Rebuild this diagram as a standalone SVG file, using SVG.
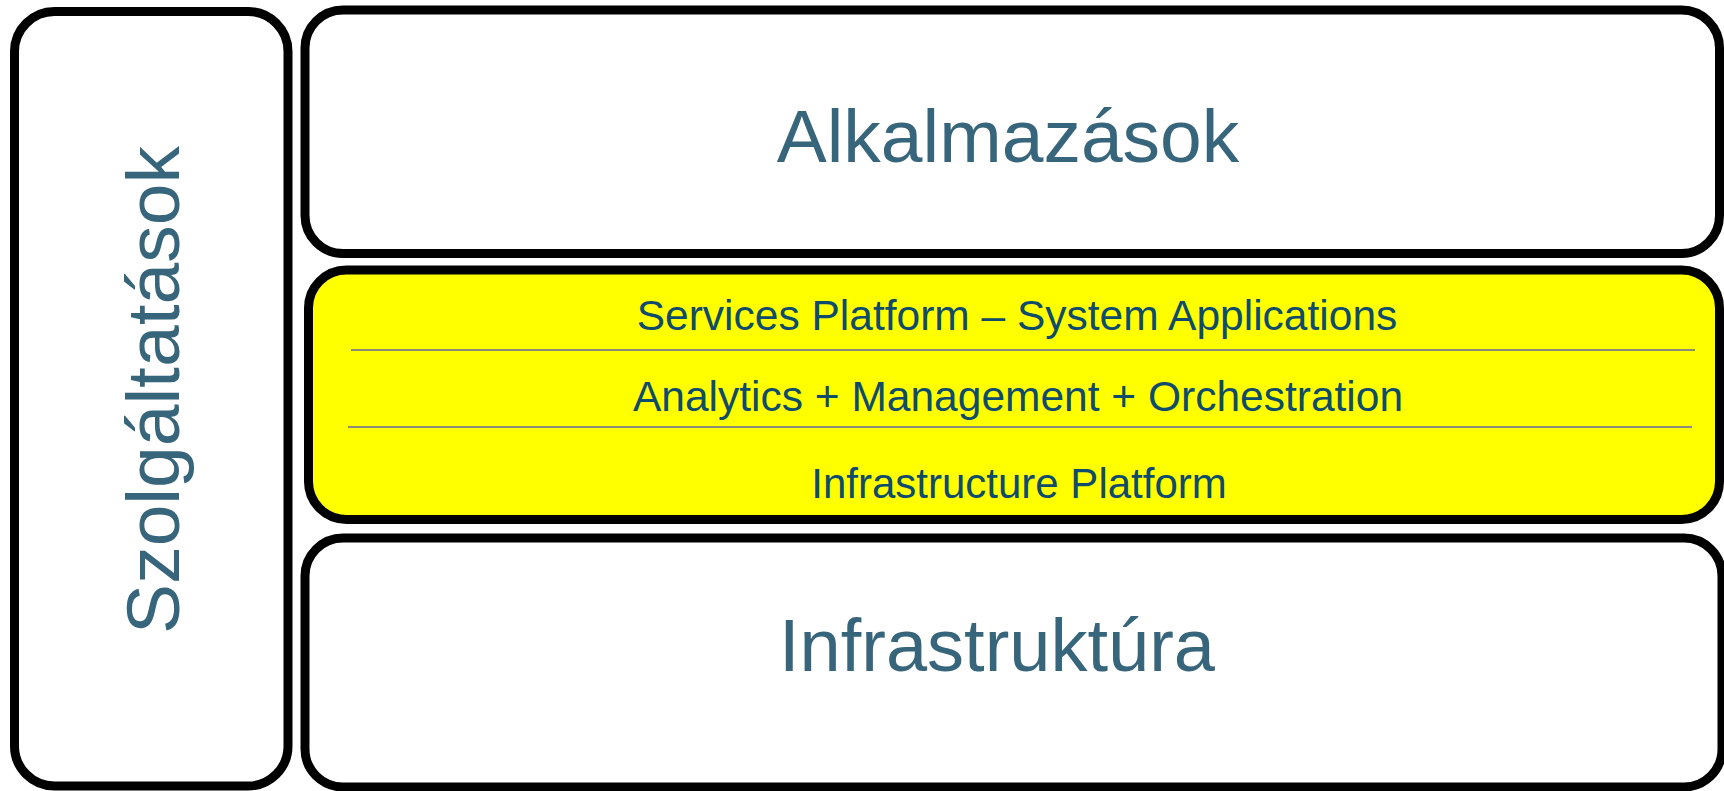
<svg xmlns="http://www.w3.org/2000/svg" width="1724" height="791" viewBox="0 0 1724 791">
<style>
.box{fill:#ffffff;stroke:#000000;stroke-width:9}
.yel{fill:#ffff00;stroke:#000000;stroke-width:9}
.big{font-family:"Liberation Sans",Arial,sans-serif;font-size:75px;fill:#37657b;text-anchor:middle}
.mid{font-family:"Liberation Sans",Arial,sans-serif;font-size:42.5px;fill:#0f4b6c;text-anchor:middle}
.div{stroke:#8c8c78;stroke-width:2}
.shd{stroke:#dede00;stroke-width:8}
</style>
<defs>
<filter id="blur" x="-5%" y="-200%" width="110%" height="500%"><feGaussianBlur stdDeviation="2.5"/></filter>
</defs>
<g id="szolgaltatasok">
<rect class="box" x="14.5" y="11.5" width="273.5" height="774.5" rx="40" ry="40"/>
<text class="big" transform="translate(179,390) rotate(-90)" x="0" y="0">Szolgáltatások</text>
</g>
<g id="alkalmazasok">
<rect class="box" x="305" y="10" width="1414.5" height="243.5" rx="38" ry="38"/>
<text class="big" x="1008" y="162">Alkalmazások</text>
</g>
<g id="platform">
<rect class="yel" x="308.5" y="270" width="1411" height="249.5" rx="38" ry="38"/>
<line class="shd" x1="355" y1="357" x2="1690" y2="357" filter="url(#blur)"/>
<line class="shd" x1="352" y1="434" x2="1687" y2="434" filter="url(#blur)"/>
<line class="div" x1="351" y1="350" x2="1695" y2="350"/>
<line class="div" x1="348" y1="427" x2="1692" y2="427"/>
<text class="mid" x="1017" y="330">Services Platform – System Applications</text>
<text class="mid" x="1018" y="411">Analytics + Management + Orchestration</text>
<text class="mid" x="1019" y="498" style="font-size:42px">Infrastructure Platform</text>
</g>
<g id="infrastruktura">
<rect class="box" x="305" y="538" width="1417" height="249" rx="38" ry="38"/>
<text class="big" x="997" y="671" style="font-size:74px">Infrastruktúra</text>
</g>
<g id="connectors"/>
</svg>
